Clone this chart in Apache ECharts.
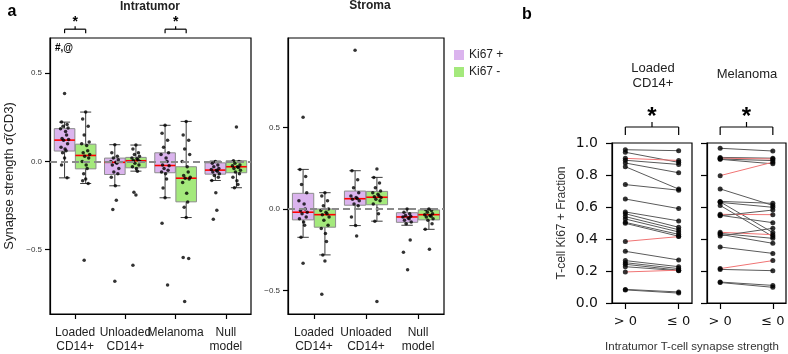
<!DOCTYPE html>
<html>
<head>
<meta charset="utf-8">
<script src="https://cdn.jsdelivr.net/npm/echarts@6/dist/echarts.min.js"></script>
<style>
  html, body { margin: 0; padding: 0; background: #fff; }
  #chart { width: 788px; height: 354px; }
</style>
</head>
<body>
<div id="chart"></div>
<script>
const intraCats = ['Loaded\nCD14+', 'Unloaded\nCD14+', 'Melanoma', 'Null\nmodel'];
const stromaCats = ['Loaded\nCD14+', 'Unloaded\nCD14+', 'Null\nmodel'];

// box stats: [lower whisker, Q1, median, Q3, upper whisker]
const intraPosBox = [
  [-0.093, 0.059, 0.121, 0.186, 0.223],
  [-0.138, -0.074, -0.005, 0.019, 0.095],
  [-0.206, -0.064, -0.023, 0.049, 0.205],
  [-0.108, -0.072, -0.049, -0.008, 0.002]
];
const intraNegBox = [
  [-0.125, -0.042, 0.034, 0.098, 0.28],
  [-0.055, -0.036, 0.004, 0.023, 0.093],
  [-0.318, -0.229, -0.095, -0.030, 0.227],
  [-0.149, -0.064, -0.030, 0.004, 0.004]
];
const stromaPosBox = [
  [-0.174, -0.067, -0.02, 0.096, 0.243],
  [-0.102, 0.023, 0.063, 0.11, 0.235],
  [-0.1, -0.082, -0.049, -0.023, 0.0]
];
const stromaNegBox = [
  [-0.282, -0.112, -0.035, 0.0, 0.1],
  [-0.075, 0.026, 0.072, 0.108, 0.194],
  [-0.125, -0.067, -0.035, -0.006, 0.0]
];

// individual samples (strip points)
const intraPosPts = [
  [0.385, 0.223, 0.21, 0.2, 0.19, 0.185, 0.17, 0.15, 0.13, 0.125, 0.12, 0.1, 0.08, 0.07, 0.06, 0.05, 0.02, -0.02, -0.093],
  [0.095, 0.05, 0.03, 0.02, 0.01, 0.0, -0.005, -0.01, -0.02, -0.04, -0.06, -0.07, -0.09, -0.138, -0.22, -0.273, -0.68],
  [0.205, 0.16, 0.12, 0.08, 0.05, 0.04, 0.02, 0.0, -0.02, -0.025, -0.04, -0.05, -0.06, -0.07, -0.1, -0.15, -0.206, -0.35, -0.70],
  [0.0, -0.01, -0.02, -0.03, -0.04, -0.045, -0.05, -0.055, -0.06, -0.07, -0.08, -0.09, -0.108, -0.178, -0.277, -0.328]
];
const intraNegPts = [
  [0.28, 0.24, 0.2, 0.15, 0.11, 0.1, 0.09, 0.06, 0.05, 0.04, 0.03, 0.02, 0.0, -0.02, -0.04, -0.07, -0.1, -0.11, -0.125, -0.56],
  [0.093, 0.07, 0.05, 0.04, 0.03, 0.02, 0.015, 0.01, 0.005, 0.0, -0.01, -0.02, -0.03, -0.04, -0.055, -0.174, -0.19, -0.589],
  [0.227, 0.15, 0.12, 0.07, 0.04, 0.0, -0.03, -0.06, -0.08, -0.09, -0.095, -0.1, -0.12, -0.18, -0.23, -0.26, -0.318, -0.545, -0.55, -0.794],
  [0.195, 0.004, 0.0, -0.01, -0.02, -0.025, -0.03, -0.035, -0.04, -0.05, -0.06, -0.07, -0.09, -0.11, -0.13, -0.149]
];
const stromaPosPts = [
  [0.563, 0.243, 0.2, 0.15, 0.1, 0.05, 0.03, 0.0, -0.01, -0.02, -0.03, -0.05, -0.06, -0.08, -0.1, -0.174, -0.333],
  [0.975, 0.235, 0.18, 0.13, 0.1, 0.08, 0.07, 0.065, 0.06, 0.05, 0.03, 0.02, -0.05, -0.102, -0.166],
  [0.0, -0.02, -0.03, -0.04, -0.045, -0.05, -0.055, -0.06, -0.07, -0.08, -0.09, -0.19, -0.266, -0.374]
];
const stromaNegPts = [
  [0.1, 0.08, 0.05, 0.02, 0.0, -0.01, -0.02, -0.03, -0.035, -0.05, -0.07, -0.1, -0.12, -0.15, -0.2, -0.282, -0.319, -0.523],
  [0.245, 0.194, 0.16, 0.13, 0.11, 0.1, 0.09, 0.08, 0.075, 0.07, 0.06, 0.05, 0.03, 0.0, -0.03, -0.075, -0.569],
  [0.0, -0.005, -0.01, -0.02, -0.03, -0.035, -0.04, -0.045, -0.05, -0.06, -0.07, -0.09, -0.125, -0.247]
];

// panel b: Ki67+ fraction for synapse > 0 and <= 0, third item 1 = increase (red)
const loadedPairs = [
  [0.958, 0.952, 0], [0.942, 0.879, 0], [0.904, 0.891, 1], [0.892, 0.866, 0], [0.875, 0.814, 0],
  [0.852, 0.712, 0], [0.74, 0.705, 0], [0.65, 0.59, 0], [0.569, 0.513, 0], [0.558, 0.473, 0],
  [0.54, 0.458, 0], [0.525, 0.444, 0], [0.504, 0.429, 0], [0.498, 0.417, 0], [0.385, 0.415, 1],
  [0.323, 0.269, 0], [0.265, 0.227, 0], [0.252, 0.215, 0], [0.242, 0.205, 0], [0.227, 0.202, 0],
  [0.194, 0.205, 1], [0.085, 0.069, 0], [0.082, 0.062, 0]
];
const melanomaPairs = [
  [0.967, 0.95, 0], [0.91, 0.905, 0], [0.905, 0.9, 1], [0.9, 0.89, 0], [0.898, 0.87, 0],
  [0.796, 0.88, 1], [0.713, 0.61, 0], [0.635, 0.623, 0], [0.632, 0.44, 0], [0.629, 0.598, 0],
  [0.61, 0.415, 0], [0.554, 0.552, 1], [0.548, 0.502, 0], [0.545, 0.581, 0], [0.442, 0.427, 1],
  [0.435, 0.404, 0], [0.429, 0.373, 0], [0.419, 0.467, 0], [0.35, 0.31, 0], [0.215, 0.265, 1],
  [0.21, 0.202, 0], [0.131, 0.11, 0], [0.128, 0.098, 0]
];

const jitter = [0.0, -0.06, 0.05, -0.03, 0.07, -0.08, 0.02, 0.04, -0.05, 0.08, -0.02, 0.06, -0.07, 0.01, 0.03, -0.04];

const PINK = '#dbb4ee';
const GREEN = '#a4e97c';
const HUE = 0.21;
const FONT = 'Liberation Sans, Arial, sans-serif';

function boxData(stats, sign) {
  return stats.map((s, i) => [i + sign * HUE].concat(s));
}
function pointData(groups, sign) {
  const out = [];
  groups.forEach((pts, i) => {
    pts.forEach((v, j) => out.push([i + sign * HUE + jitter[j % jitter.length], v]));
  });
  return out;
}

function renderBox(params, api) {
  const x = api.value(0);
  const lo = api.value(1), q1 = api.value(2), med = api.value(3), q3 = api.value(4), hi = api.value(5);
  const half = 0.205, cap = 0.11;
  const a = api.coord([x - half, q3]);
  const b = api.coord([x + half, q1]);
  const top = api.coord([x, hi]);
  const bot = api.coord([x, lo]);
  const cl = api.coord([x - cap, hi])[0];
  const cr = api.coord([x + cap, hi])[0];
  const m1 = api.coord([x - half, med]);
  const m2 = api.coord([x + half, med]);
  const w = { stroke: '#3c3c3c', lineWidth: 1 };
  const line = (x1, y1, x2, y2, style) => ({ type: 'line', shape: { x1, y1, x2, y2 }, style });
  return {
    type: 'group',
    children: [
      line(top[0], top[1], top[0], a[1], w),
      line(bot[0], bot[1], bot[0], b[1], w),
      line(cl, top[1], cr, top[1], w),
      line(cl, bot[1], cr, bot[1], w),
      { type: 'rect', shape: { x: a[0], y: a[1], width: b[0] - a[0], height: b[1] - a[1] },
        style: { fill: api.visual('color'), stroke: '#8c8c8c', lineWidth: 1 } },
      line(m1[0], m1[1], m2[0], m2[1], { stroke: '#ff0000', lineWidth: 1.6 })
    ]
  };
}

function bracketRenderer(leg, rise, starGap, starSize) {
  return function (params, api) {
    const p1 = api.coord([api.value(0), api.value(2)]);
    const p2 = api.coord([api.value(1), api.value(2)]);
    const mid = (p1[0] + p2[0]) / 2;
    const s = { stroke: '#000', lineWidth: 1.2 };
    return {
      type: 'group',
      children: [
        { type: 'line', shape: { x1: p1[0], y1: p1[1], x2: p2[0], y2: p2[1] }, style: s },
        { type: 'line', shape: { x1: p1[0], y1: p1[1], x2: p1[0], y2: p1[1] + leg }, style: s },
        { type: 'line', shape: { x1: p2[0], y1: p2[1], x2: p2[0], y2: p2[1] + leg }, style: s },
        { type: 'line', shape: { x1: mid, y1: p1[1], x2: mid, y2: p1[1] - rise }, style: s },
        { type: 'text', x: mid, y: p1[1] - starGap,
          style: { text: '*', font: 'bold ' + starSize + 'px ' + FONT, fill: '#000',
                   align: 'center', verticalAlign: 'middle' } }
      ]
    };
  };
}

function pairSeries(pairs, axisIdx) {
  const list = pairs.map(p => ({
    type: 'line', xAxisIndex: axisIdx, yAxisIndex: axisIdx - 2,
    data: [[0, p[0]], [1, p[1]]], showSymbol: false, silent: true,
    lineStyle: { color: p[2] ? '#f07474' : '#5a5a5a', width: 1 }, z: 2
  }));
  const pts = [];
  pairs.forEach(p => { pts.push([0, p[0]]); pts.push([1, p[1]]); });
  list.push({
    type: 'scatter', xAxisIndex: axisIdx, yAxisIndex: axisIdx - 2,
    data: pts, symbolSize: 5, itemStyle: { color: '#000' }, z: 3
  });
  list.push({
    type: 'custom', xAxisIndex: axisIdx, yAxisIndex: axisIdx - 2, clip: false, silent: true,
    renderItem: bracketRenderer(8, 5, 10, 24), data: [[0, 1, 1.1]], z: 4
  });
  return list;
}

const aTickFmt = v => (v < 0 ? '\u2212' : '') + Math.abs(v).toFixed(1);
const blackLine = { show: true, onZero: false, lineStyle: { color: '#000', width: 1.2 } };
const tickStyle = { color: '#000', width: 1.2 };

function catAxis(grid, cats) {
  return {
    type: 'category', gridIndex: grid, data: cats, position: 'bottom',
    axisLine: blackLine,
    axisTick: { show: true, alignWithLabel: true, length: 5, lineStyle: tickStyle },
    axisLabel: { fontSize: 12, lineHeight: 14, color: '#222', margin: 12, fontFamily: FONT, interval: 0 },
    splitLine: { show: false }
  };
}
function hiddenAxis(grid, n) {
  return { type: 'value', gridIndex: grid, min: -0.5, max: n - 0.5, show: false,
           axisLine: { onZero: false }, splitLine: { show: false } };
}
function aYAxis(grid, min, max, name) {
  return {
    type: 'value', gridIndex: grid, min: min, max: max, position: 'left',
    name: name, nameLocation: 'middle', nameGap: 34,
    nameTextStyle: { fontSize: 13, color: '#222', fontFamily: FONT },
    axisLine: blackLine,
    axisTick: { show: true, length: 5, customValues: [-0.5, 0, 0.5], lineStyle: tickStyle },
    axisLabel: { fontSize: 8, color: '#333', fontFamily: FONT, margin: 8,
                 customValues: [-0.5, 0, 0.5], formatter: aTickFmt },
    splitLine: { show: false }
  };
}
function bXAxis(grid) {
  return {
    type: 'value', gridIndex: grid, min: -0.25, max: 1.25, position: 'bottom',
    axisLine: blackLine,
    axisTick: { show: true, length: 6, customValues: [0, 1], lineStyle: tickStyle },
    axisLabel: { fontSize: 13, color: '#111', margin: 12, fontFamily: 'DejaVu Sans',
                 customValues: [0, 1], formatter: v => (v === 0 ? '> 0' : '\u2264 0') },
    splitLine: { show: false }
  };
}
function bYAxis(grid, labels) {
  return {
    type: 'value', gridIndex: grid, min: 0, max: 1, interval: 0.2, position: 'left',
    name: labels ? 'T-cell Ki67 + Fraction' : '', nameLocation: 'middle', nameGap: 44,
    nameTextStyle: { fontSize: 12, color: '#333', fontFamily: FONT },
    axisLine: blackLine,
    axisTick: { show: true, length: 6, lineStyle: tickStyle },
    axisLabel: { show: labels, fontSize: 14, color: '#111', margin: 14, fontFamily: 'DejaVu Sans',
                 formatter: v => v.toFixed(1) },
    splitLine: { show: false }
  };
}

const zeroLine = {
  silent: true, symbol: 'none', label: { show: false },
  lineStyle: { type: [7, 4], color: '#8a8a8a', width: 2 },
  data: [{ yAxis: 0 }]
};

const frame = { show: true, borderColor: '#000', borderWidth: 1.2, backgroundColor: 'transparent' };

const option = {
  animation: false,
  textStyle: { fontFamily: FONT },
  grid: [
    Object.assign({ left: 50, top: 38, width: 201, height: 276 }, frame),
    Object.assign({ left: 288, top: 38, width: 156, height: 276 }, frame),
    Object.assign({ left: 612, top: 143, width: 80, height: 160 }, frame),
    Object.assign({ left: 707, top: 143, width: 79, height: 160 }, frame)
  ],
  xAxis: [
    catAxis(0, intraCats), hiddenAxis(0, 4),
    catAxis(1, stromaCats), hiddenAxis(1, 3),
    bXAxis(2), bXAxis(3)
  ],
  yAxis: [
    aYAxis(0, -0.865, 0.70, 'Synapse strength \u03c3\u0304(CD3)'),
    aYAxis(1, -0.645, 1.05, ''),
    bYAxis(2, true), bYAxis(3, false)
  ],
  legend: {
    data: ['Ki67 +', 'Ki67 -'], orient: 'vertical', left: 449, top: 44,
    icon: 'rect', itemWidth: 10, itemHeight: 10, itemGap: 5,
    textStyle: { fontSize: 12, color: '#222', fontFamily: FONT }
  },
  graphic: [
    { type: 'text', x: 12, y: 12, style: { text: 'a', font: 'bold 16px ' + FONT, fill: '#000', align: 'center', verticalAlign: 'middle' } },
    { type: 'text', x: 150, y: 7, style: { text: 'Intratumor', font: 'bold 12px ' + FONT, fill: '#222', align: 'center', verticalAlign: 'middle' } },
    { type: 'text', x: 370, y: 6, style: { text: 'Stroma', font: 'bold 12px ' + FONT, fill: '#222', align: 'center', verticalAlign: 'middle' } },
    { type: 'text', x: 64, y: 48, style: { text: '#,@', font: 'bold 10px ' + FONT, fill: '#000', align: 'center', verticalAlign: 'middle' } },
    { type: 'text', x: 527, y: 15, style: { text: 'b', font: 'bold 16px ' + FONT, fill: '#000', align: 'center', verticalAlign: 'middle' } },
    { type: 'text', x: 653, y: 76, style: { text: 'Loaded\nCD14+', font: '13px ' + FONT, lineHeight: 15, fill: '#222', align: 'center', verticalAlign: 'middle' } },
    { type: 'text', x: 747, y: 74, style: { text: 'Melanoma', font: '13px ' + FONT, fill: '#222', align: 'center', verticalAlign: 'middle' } },
    { type: 'text', x: 692, y: 347, style: { text: 'Intratumor T-cell synapse strength', font: '11.5px ' + FONT, fill: '#333', align: 'center', verticalAlign: 'middle' } }
  ],
  series: [
    { name: 'Ki67 +', type: 'custom', xAxisIndex: 1, yAxisIndex: 0, renderItem: renderBox,
      itemStyle: { color: PINK }, encode: { x: 0, y: [1, 2, 3, 4, 5] }, data: boxData(intraPosBox, -1), z: 2 },
    { name: 'Ki67 -', type: 'custom', xAxisIndex: 1, yAxisIndex: 0, renderItem: renderBox,
      itemStyle: { color: GREEN }, encode: { x: 0, y: [1, 2, 3, 4, 5] }, data: boxData(intraNegBox, 1), z: 2 },
    { type: 'scatter', xAxisIndex: 1, yAxisIndex: 0, symbolSize: 3.5, itemStyle: { color: '#000' },
      data: pointData(intraPosPts, -1).concat(pointData(intraNegPts, 1)), markLine: zeroLine, z: 3 },
    { type: 'custom', xAxisIndex: 1, yAxisIndex: 0, clip: false, silent: true,
      renderItem: bracketRenderer(4, 3, 7, 14), data: [[-0.21, 0.21, 0.75], [1.79, 2.21, 0.75]], z: 4 },

    { name: 'Ki67 +', type: 'custom', xAxisIndex: 3, yAxisIndex: 1, renderItem: renderBox,
      itemStyle: { color: PINK }, encode: { x: 0, y: [1, 2, 3, 4, 5] }, data: boxData(stromaPosBox, -1), z: 2 },
    { name: 'Ki67 -', type: 'custom', xAxisIndex: 3, yAxisIndex: 1, renderItem: renderBox,
      itemStyle: { color: GREEN }, encode: { x: 0, y: [1, 2, 3, 4, 5] }, data: boxData(stromaNegBox, 1), z: 2 },
    { type: 'scatter', xAxisIndex: 3, yAxisIndex: 1, symbolSize: 3.5, itemStyle: { color: '#000' },
      data: pointData(stromaPosPts, -1).concat(pointData(stromaNegPts, 1)), markLine: zeroLine, z: 3 }
  ].concat(pairSeries(loadedPairs, 4), pairSeries(melanomaPairs, 5))
};

const chart = echarts.init(document.getElementById('chart'));
chart.setOption(option);
</script>
</body>
</html>
